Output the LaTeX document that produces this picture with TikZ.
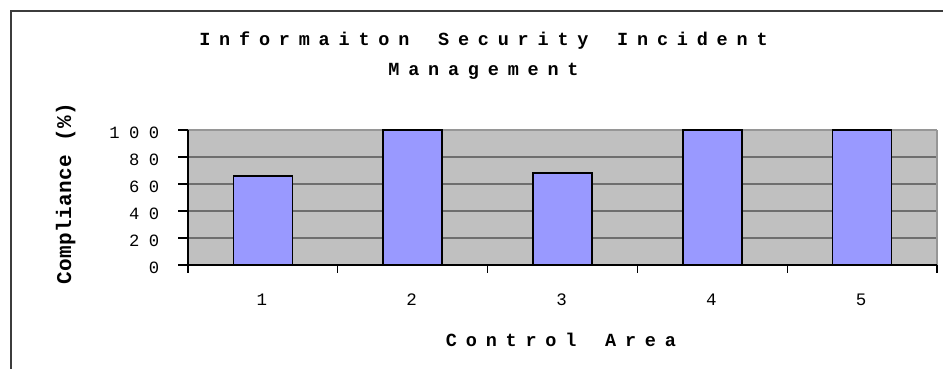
\documentclass[tikz,border=0pt]{standalone}
\usepackage{fontspec}
\newfontfamily\cour{Liberation Mono}
\ExplSyntaxOn
\NewDocumentCommand\spc{mm}
  {
    \str_set:Nx \l_tmpa_str {#2}
    \str_map_inline:Nn \l_tmpa_str
      { \str_if_eq:nnTF {##1} {|} { \hspace{0.6em} } { ##1 } \kern#1 }
    \kern-#1
  }
\ExplSyntaxOff
\definecolor{plotc}{RGB}{192,192,192}
\definecolor{barc}{RGB}{153,153,255}
\definecolor{gridc}{RGB}{110,110,110}
\definecolor{borderc}{RGB}{150,150,150}
\definecolor{framec}{RGB}{60,60,60}
\tikzset{
  titletxt/.style={inner sep=0pt, anchor=base, font=\cour\bfseries\fontsize{18.5}{22}\selectfont},
  ticktxt/.style={inner sep=0pt, anchor=base east, font=\cour\fontsize{17.2}{20}\selectfont},
  cattxt/.style={inner sep=0pt, anchor=base, font=\cour\fontsize{17.5}{20}\selectfont},
  barbox/.style={fill=barc, draw=black, line width=1.5pt},
  gridline/.style={draw=gridc, line width=1.3pt},
  axisline/.style={draw=black, line width=1.1pt},
}
\begin{document}
\begin{tikzpicture}[x=1pt,y=-1pt]
\useasboundingbox (0,0) rectangle (943,368);
% outer frame
\coordinate (fb) at (11,380);
\coordinate (fc) at (11,11);
\coordinate (fr) at (955,11);
\draw[framec, line width=2pt] (fb) -- (fc) -- (fr);
% plot area
\fill[plotc] (188,130) rectangle (937,265);
\foreach \v in {20,40,60,80}
  \draw[gridline] (188,{265-1.35*\v}) -- (937,{265-1.35*\v});
\draw[draw=borderc, line width=1.3pt] (188,130) -- (937,130);
\draw[draw=borderc, line width=2pt] (937,130) -- (937,265);
% bars
\foreach \i/\v in {1/66,2/100,3/68,4/100,5/100}
  \draw[barbox] ({188+(\i-0.5)*149.8-29.5},265) rectangle ++(59,{-1.35*\v});
% axes
\draw[axisline] (188,130) -- (188,272.5);
\draw[axisline] (178,265) -- (937,265);
\foreach \v in {20,40,60,80,100}
  \draw[axisline] (178,{265-1.35*\v}) -- (188,{265-1.35*\v});
\foreach \k in {1,...,5}
  \draw[axisline] ({188+149.8*\k},265) -- ({188+149.8*\k},272.5);
% y tick labels
\foreach \v in {0,20,40,60,80,100}
  \node[ticktxt] (yl\v) at (159.5,{273-1.35*\v}) {\spc{9.5pt}{\v}};
% category labels
\foreach \i in {1,...,5}
  \node[cattxt] (c\i) at ({188+(\i-0.5)*149.8-1},305) {\i};
% titles
\node[titletxt] (title1) at (483.5,45.7) {\spc{8.8pt}{Informaiton|Security|Incident}};
\node[titletxt] (title2) at (483.5,75) {\spc{8.8pt}{Management}};
\node[titletxt] (xtitle) at (561,346) {\spc{8.8pt}{Control|Area}};
\node[inner sep=0pt, anchor=base, rotate=90, font=\cour\bfseries\fontsize{21}{24}\selectfont] (ytitle) at (71,194)
  {\spc{0.4pt}{Compliance|(}\kern0.4pt\%\kern0.4pt)};
\end{tikzpicture}
\end{document}
